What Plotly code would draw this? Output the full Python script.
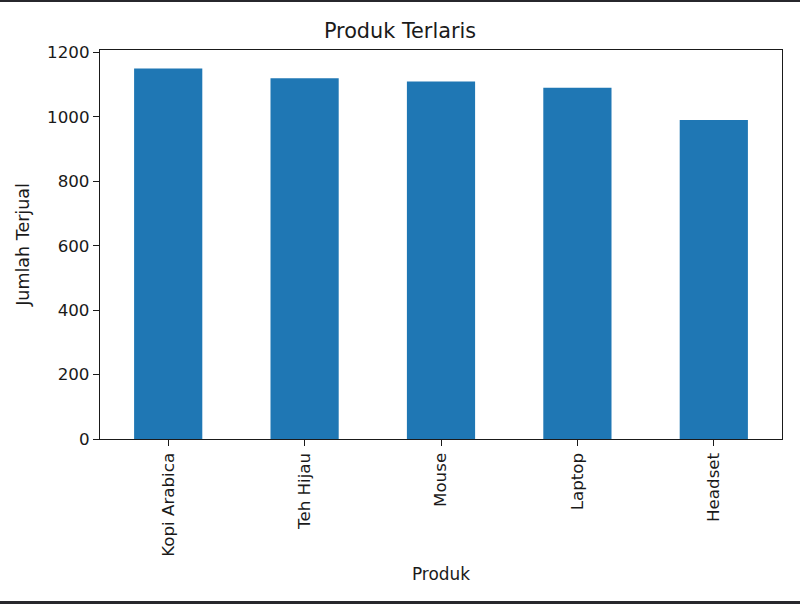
import plotly.graph_objects as go

# data
produk = ["Kopi Arabica", "Teh Hijau", "Mouse", "Laptop", "Headset"]
jumlah_terjual = [1150, 1120, 1110, 1090, 990]
y_ticks = [0, 200, 400, 600, 800, 1000, 1200]

W, H = 800, 604
L, R, T, B = 100, 18, 50, 165
plot_h = H - T - B

fig = go.Figure(go.Bar(
    x=list(range(len(produk))),
    y=jumlah_terjual,
    width=0.5,
    marker=dict(color="#1f77b4", line=dict(width=0)),
))

ink = "#1a1a1a"
font = dict(family="DejaVu Sans", size=16.7, color=ink)

fig.update_layout(
    width=W, height=H,
    margin=dict(l=L, r=R, t=T, b=B),
    paper_bgcolor="white", plot_bgcolor="white",
    font=font,
    showlegend=False,
    title=dict(text="Produk Terlaris", x=0.5, xanchor="center",
               y=1 - 31 / H, yanchor="middle",
               font=dict(family="DejaVu Sans", size=20.8, color=ink)),
    xaxis=dict(
        range=[-0.5, len(produk) - 0.5],
        tickmode="array", tickvals=list(range(len(produk))), ticktext=produk,
        tickangle=-90, ticks="outside", ticklen=6, tickwidth=1.3, tickcolor=ink,
        tickfont=dict(size=16.7),
        showline=True, mirror=True, linecolor=ink, linewidth=1.3,
        showgrid=False, zeroline=False,
        title=dict(text="Produk", standoff=12, font=dict(size=16.9)),
    ),
    yaxis=dict(
        range=[0, max(jumlah_terjual) * 1.05],
        tickmode="array", tickvals=y_ticks,
        ticks="outside", ticklen=6, tickwidth=1.3, tickcolor=ink,
        tickfont=dict(size=16.7),
        showline=True, mirror=True, linecolor=ink, linewidth=1.3,
        showgrid=False, zeroline=False,
        title=dict(text="Jumlah Terjual", standoff=12, font=dict(size=17.5)),
    ),
)

# dark screenshot edges at top and bottom of the reference
dark = "#27272c"
bot = -(B) / plot_h
fig.add_shape(type="rect", xref="paper", yref="paper",
              x0=-0.5, x1=1.5, y0=bot - 0.01, y1=bot + 3 / plot_h,
              fillcolor=dark, line=dict(width=0), layer="above")
top = 1 + T / plot_h
fig.add_shape(type="rect", xref="paper", yref="paper",
              x0=-0.5, x1=1.5, y0=top - 2 / plot_h, y1=top + 0.01,
              fillcolor=dark, line=dict(width=0), layer="above")

fig.write_html("out.html", config={"displayModeBar": False},
               post_script="document.body.style.margin='0';")
